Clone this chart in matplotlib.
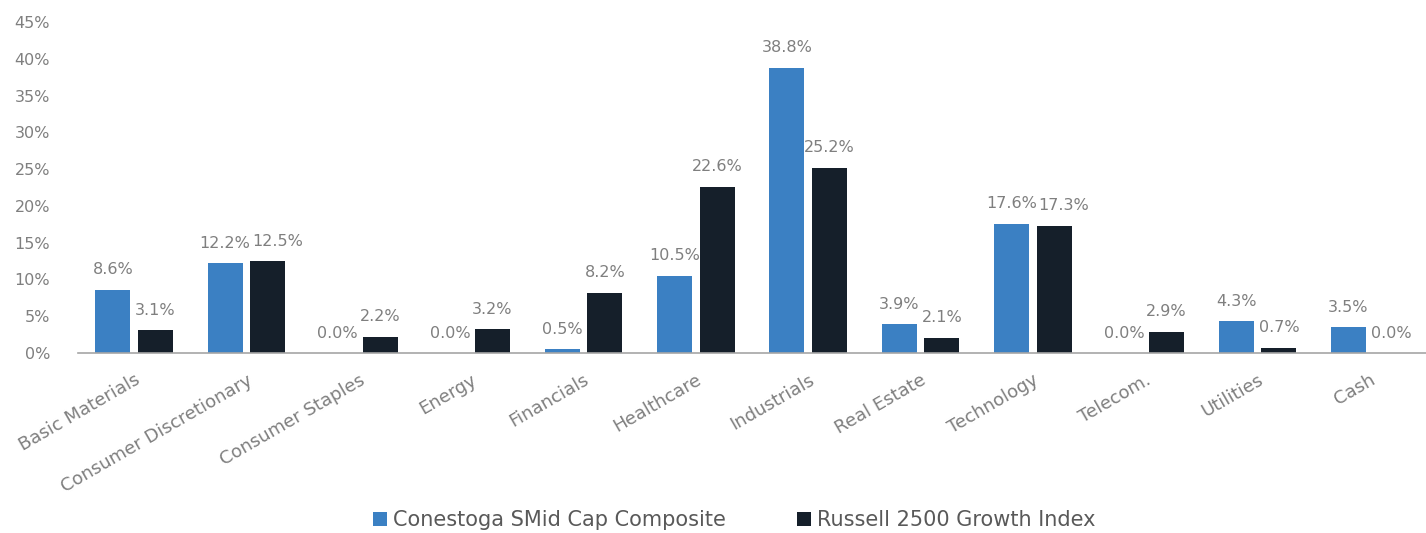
import numpy as np
import matplotlib.pyplot as plt

plt.rcParams['font.family'] = ['DejaVu Sans']

sectors = ['Basic Materials', 'Consumer Discretionary', 'Consumer Staples', 'Energy',
           'Financials', 'Healthcare', 'Industrials', 'Real Estate', 'Technology',
           'Telecom.', 'Utilities', 'Cash']
conestoga = [8.6, 12.2, 0.0, 0.0, 0.5, 10.5, 38.8, 3.9, 17.6, 0.0, 4.3, 3.5]
russell = [3.1, 12.5, 2.2, 3.2, 8.2, 22.6, 25.2, 2.1, 17.3, 2.9, 0.7, 0.0]
series_names = ['Conestoga SMid Cap Composite', 'Russell 2500 Growth Index']

BLUE = '#3b80c3'
DARK = '#151f2a'
GRAY = '#7f7f7f'

fig = plt.figure(figsize=(14.26, 5.33), dpi=100)
ax = fig.add_axes([0.0547, 0.3377, 0.9453, 0.621])

x = np.arange(len(sectors))
w = 0.31
off = 0.19
b1 = ax.bar(x - off, conestoga, w, color=BLUE, label=series_names[0])
b2 = ax.bar(x + off, russell, w, color=DARK, label=series_names[1])

# push a dark-bar label to the right when the blue label beside it sits at almost the same height
for i, (rect, v) in enumerate(zip(b1, conestoga)):
    ax.annotate(f'{v:.1f}%', (rect.get_x() + rect.get_width() / 2, v),
                xytext=(0, 9), textcoords='offset points',
                ha='center', va='bottom', fontsize=11.5, color=GRAY)
for i, (rect, v) in enumerate(zip(b2, russell)):
    dx = 7 if abs(v - conestoga[i]) < 1.0 else 0
    ax.annotate(f'{v:.1f}%', (rect.get_x() + rect.get_width() / 2, v),
                xytext=(dx, 9), textcoords='offset points',
                ha='center', va='bottom', fontsize=11.5, color=GRAY)

ax.set_xlim(-0.5, len(sectors) - 0.5)
ax.set_ylim(0, 45)
ax.set_yticks(np.arange(0, 46, 5))
ax.set_yticklabels([f'{t}%' for t in range(0, 46, 5)], fontsize=11.5, color=GRAY)
ax.set_xticks(x)
ax.set_xticklabels(sectors, rotation=30, ha='right', rotation_mode='anchor',
                   fontsize=13, color=GRAY)
ax.tick_params(axis='both', length=0)
ax.tick_params(axis='x', pad=13)
ax.tick_params(axis='y', pad=20)

for s in ('top', 'right', 'left'):
    ax.spines[s].set_visible(False)
ax.spines['bottom'].set_color('#a6a6a6')
ax.spines['bottom'].set_linewidth(1.2)

leg = fig.legend(handles=[b1, b2], labels=series_names, loc='lower center',
                 bbox_to_anchor=(0.515, -0.03), ncol=2, frameon=False,
                 fontsize=15, handlelength=0.65, handleheight=0.65,
                 handletextpad=0.3, columnspacing=3.4)
for t in leg.get_texts():
    t.set_color('#595959')

fig.savefig('out.png', dpi=100)
